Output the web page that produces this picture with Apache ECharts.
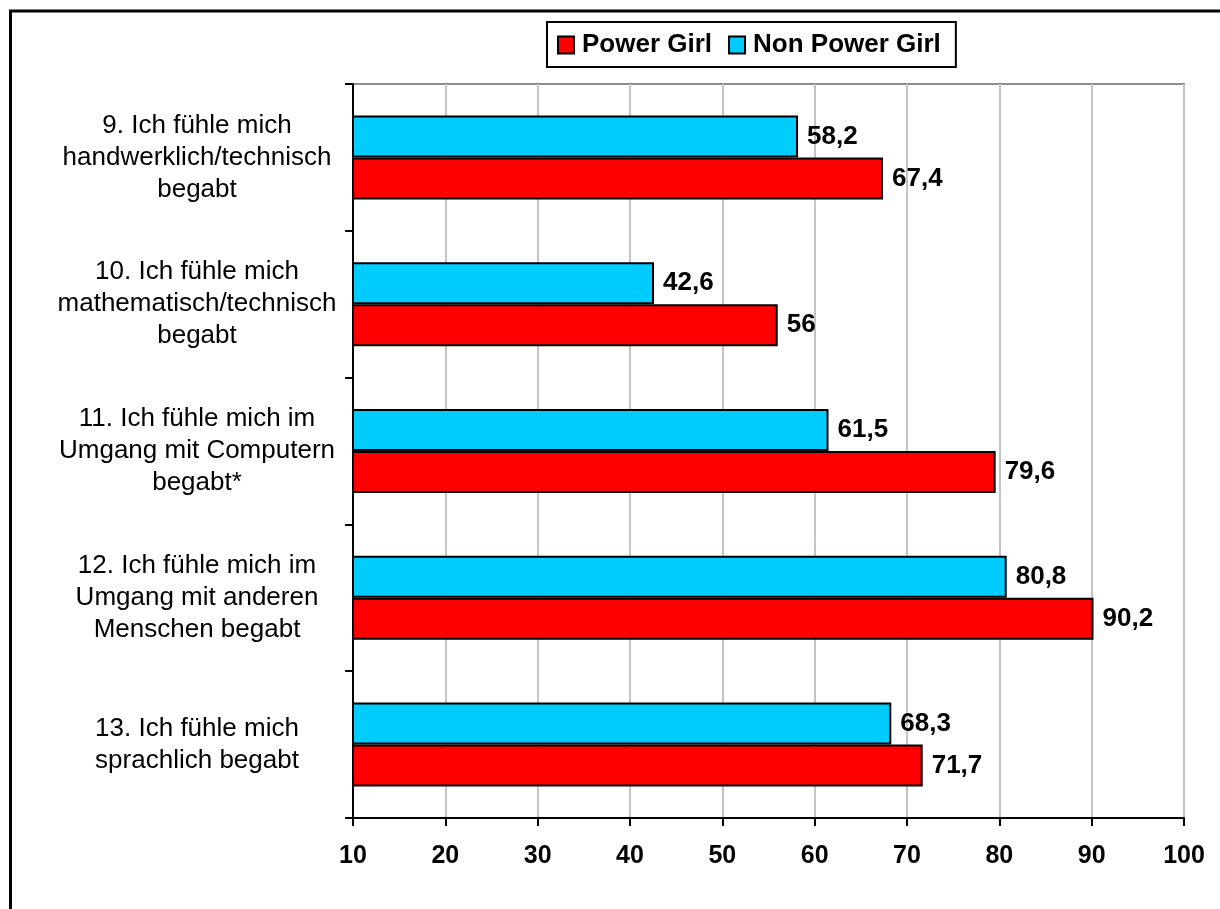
<!DOCTYPE html>
<html>
<head>
<meta charset="utf-8">
<script src="https://cdn.jsdelivr.net/npm/echarts@6/dist/echarts.min.js"></script>
<style>
html,body{margin:0;padding:0;background:#fff;}
#chart{width:1220px;height:909px;}
</style>
</head>
<body>
<div id="chart"></div>
<script>
var categories = [
  "9. Ich fühle mich\nhandwerklich/technisch\nbegabt",
  "10. Ich fühle mich\nmathematisch/technisch\nbegabt",
  "11. Ich fühle mich im\nUmgang mit Computern\nbegabt*",
  "12. Ich fühle mich im\nUmgang mit anderen\nMenschen begabt",
  "13. Ich fühle mich\nsprachlich begabt"
];
var powerGirl = [67.4, 56, 79.6, 90.2, 71.7];
var nonPowerGirl = [58.2, 42.6, 61.5, 80.8, 68.3];
var xTicks = [10, 20, 30, 40, 50, 60, 70, 80, 90, 100];

var FONT = '"Liberation Sans", Arial, sans-serif';
function fmt(p) { return String(p.value).replace('.', ','); }

var chart = echarts.init(document.getElementById('chart'), null, {renderer: 'canvas'});
chart.setOption({
  animation: false,
  backgroundColor: '#fff',
  graphic: [{
    type: 'rect', z: 100, silent: true,
    shape: {x: 10.5, y: 11, width: 1400, height: 1200},
    style: {fill: 'none', stroke: '#000', lineWidth: 3}
  }],
  grid: {
    left: 353, right: 36, top: 84, bottom: 91,
    show: true, borderColor: '#8c8c8c', borderWidth: 2, backgroundColor: 'transparent'
  },
  legend: {
    data: ['Power Girl', 'Non Power Girl'],
    left: 547, top: 22,
    padding: [10, 15, 9, 10],
    itemGap: 16, itemWidth: 16, itemHeight: 17,
    borderColor: '#000', borderWidth: 2,
    icon: 'rect',
    textStyle: {fontFamily: FONT, fontSize: 26, fontWeight: 'bold', color: '#000', padding: [0, 0, 0, 3]}
  },
  xAxis: {
    type: 'value', min: 10, max: 100, interval: 10,
    axisLine: {show: true, lineStyle: {color: '#000', width: 2}},
    axisTick: {show: true, length: 8, lineStyle: {color: '#000', width: 2}},
    axisLabel: {
      margin: 26, fontFamily: FONT, fontSize: 25, fontWeight: 'bold', color: '#000',
      formatter: function (v) { return xTicks.indexOf(v) >= 0 ? String(v) : ''; }
    },
    splitLine: {show: true, lineStyle: {color: '#c4c4c4', width: 2}}
  },
  yAxis: {
    type: 'category', data: categories, inverse: true,
    axisLine: {show: true, lineStyle: {color: '#000', width: 2}},
    axisTick: {show: true, length: 8, lineStyle: {color: '#000', width: 2}},
    axisLabel: {
      margin: 156, align: 'center', fontFamily: FONT, fontSize: 26, lineHeight: 32, color: '#000'
    },
    splitLine: {show: false}
  },
  series: [
    {
      name: 'Non Power Girl', type: 'bar', data: nonPowerGirl,
      barWidth: 42, barGap: '0%',
      itemStyle: {color: '#00CCFF', borderColor: '#000', borderWidth: 2},
      label: {show: true, position: 'right', distance: 9, formatter: fmt,
        fontFamily: FONT, fontSize: 26, fontWeight: 'bold', color: '#000'}
    },
    {
      name: 'Power Girl', type: 'bar', data: powerGirl,
      barWidth: 42, barGap: '0%',
      itemStyle: {color: '#FF0000', borderColor: '#000', borderWidth: 2},
      label: {show: true, position: 'right', distance: 9, formatter: fmt,
        fontFamily: FONT, fontSize: 26, fontWeight: 'bold', color: '#000'}
    }
  ]
});
</script>
</body>
</html>
